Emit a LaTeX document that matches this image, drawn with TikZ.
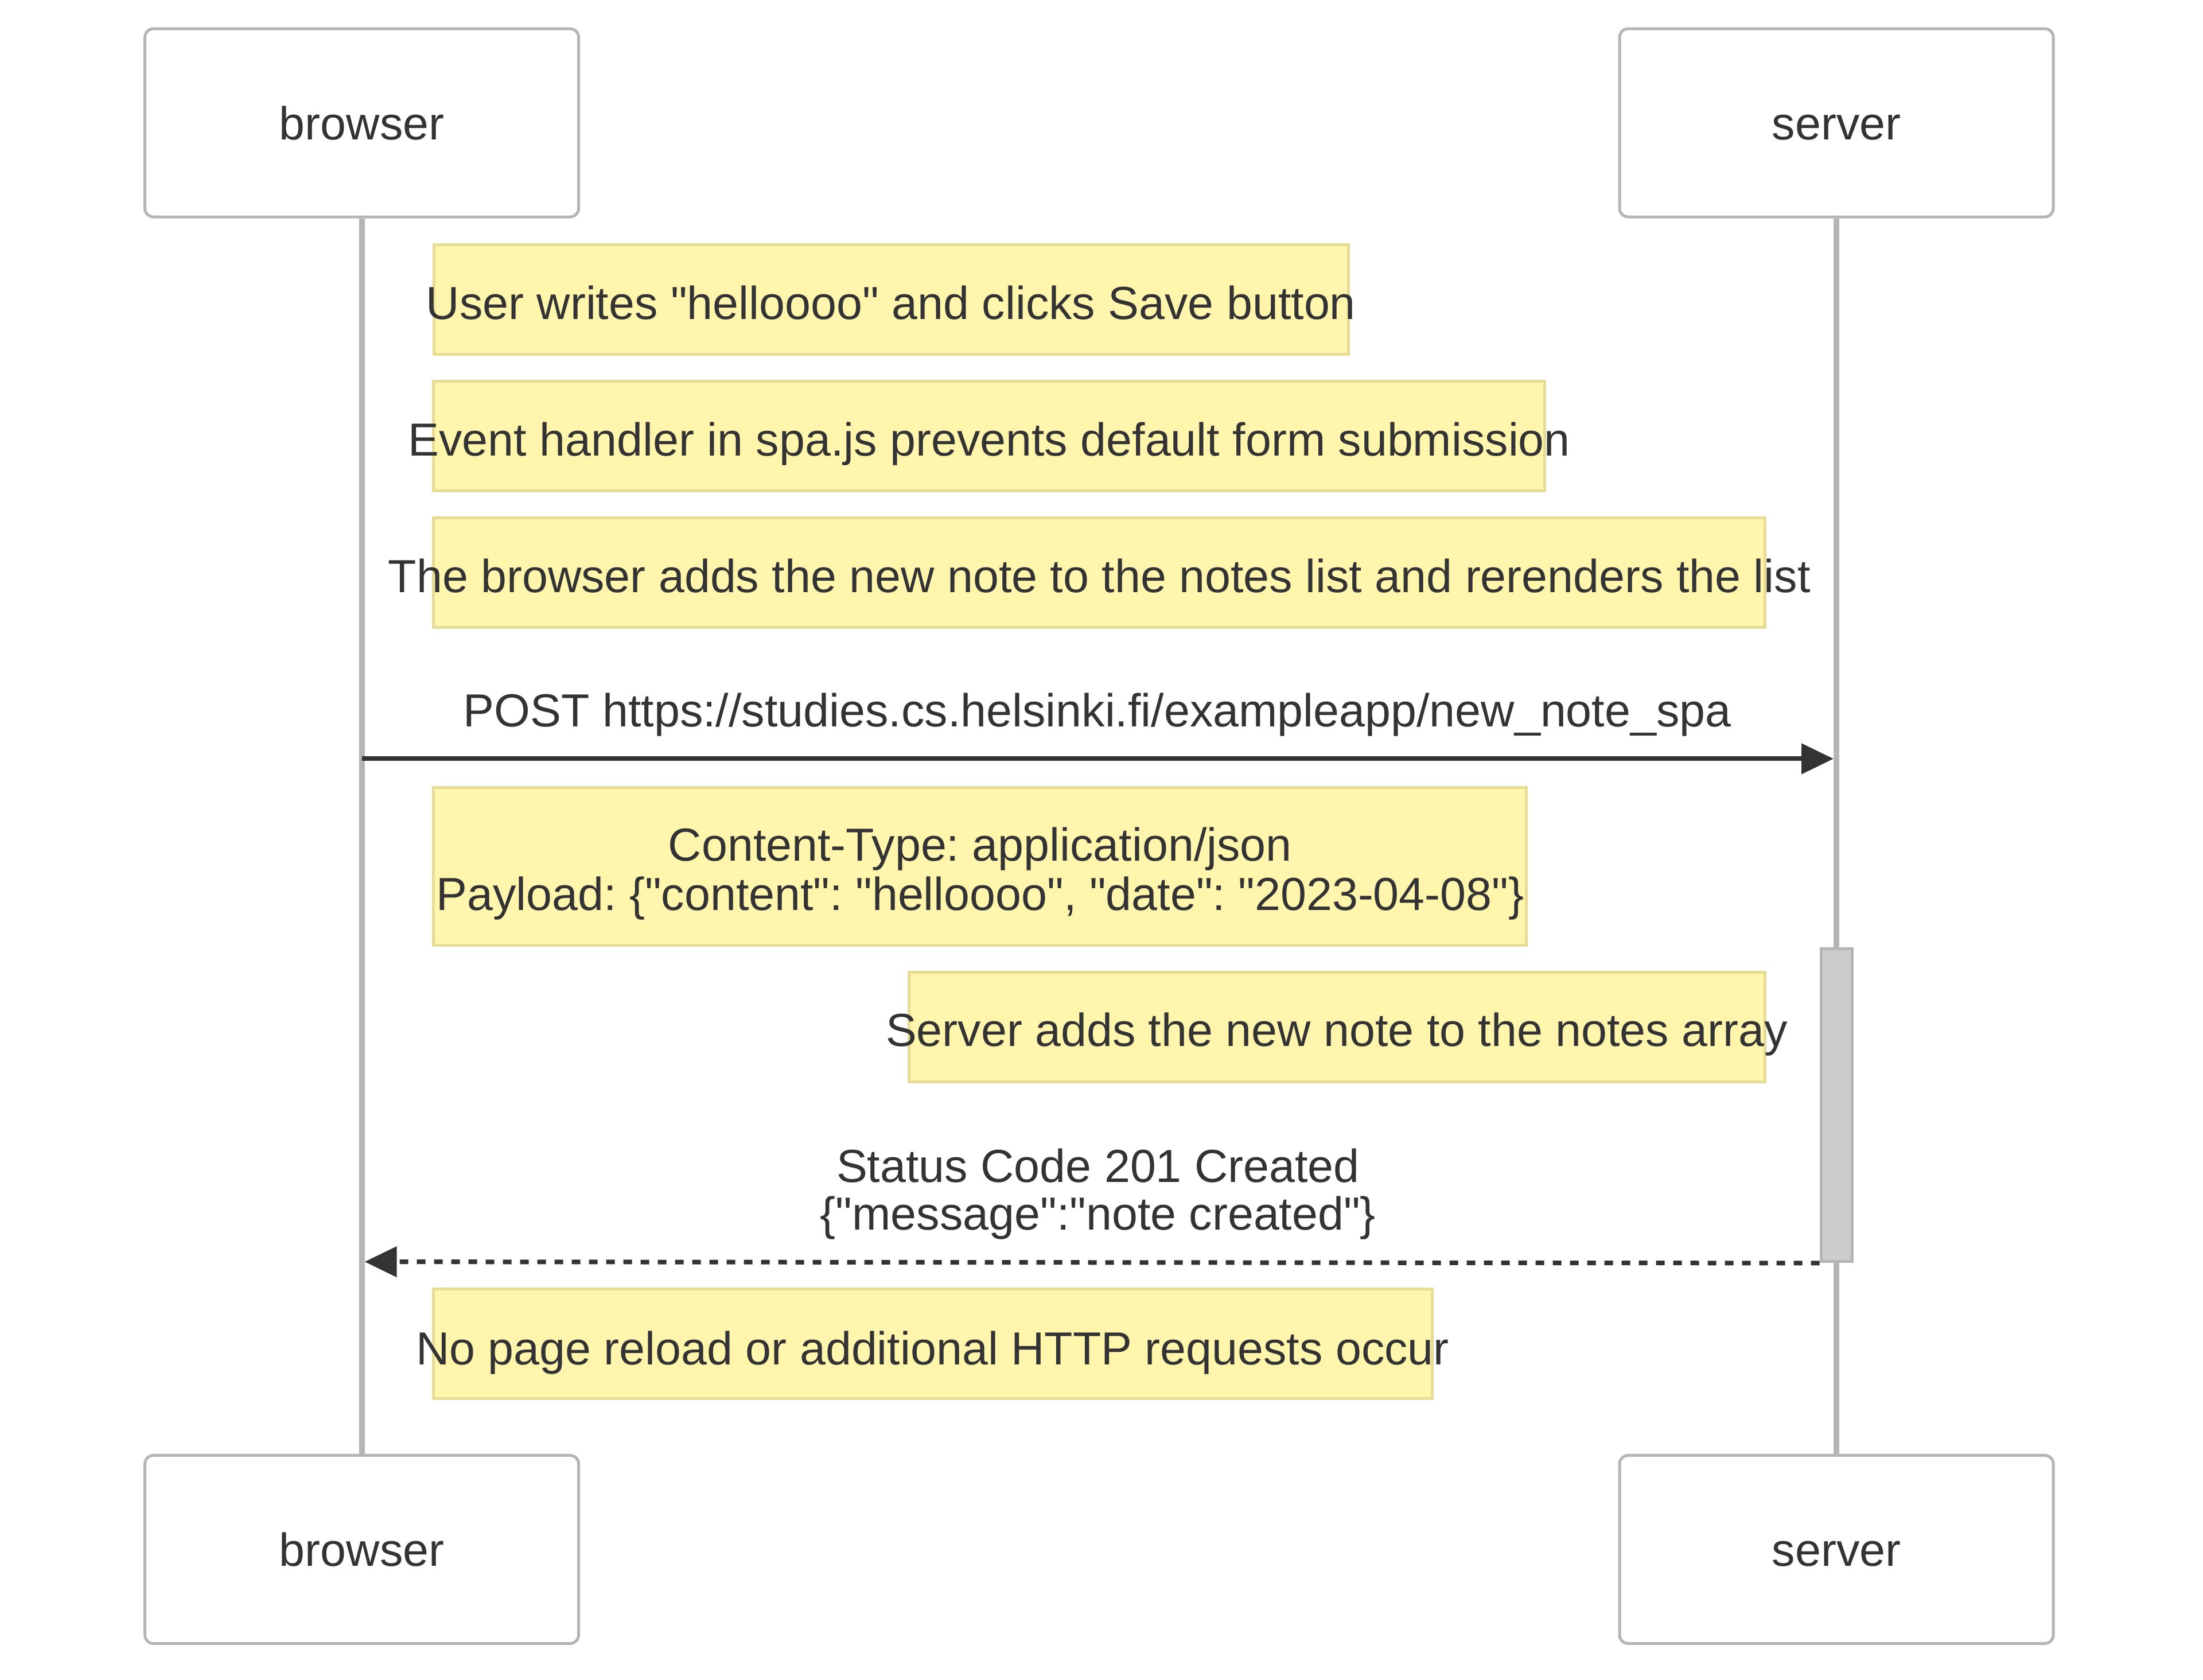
\documentclass[tikz,border=0pt]{standalone}
\usepackage{fontspec}
\setmainfont{Liberation Sans}[Ligatures=TeXOff]
\usetikzlibrary{arrows.meta}
\frenchspacing
\definecolor{ink}{HTML}{333333}
\definecolor{lifegray}{HTML}{B5B5B5}
\definecolor{notefill}{HTML}{FFF5AD}
\definecolor{noteline}{HTML}{E6DC96}
\definecolor{actfill}{HTML}{CCCCCC}
\tikzset{
  actor/.style={draw=lifegray, line width=1.25pt, fill=white, rounded corners=3.75pt,
    minimum width=189pt, minimum height=82pt, inner sep=0pt, text height=14.5pt, text depth=0pt},
  lifeline/.style={draw=lifegray, line width=2.5pt},
  notebox/.style={draw=noteline, fill=notefill, line width=1.25pt, inner sep=0pt, minimum height=47.75pt},
  activation/.style={draw=lifegray, fill=actfill, line width=1.25pt, inner sep=0pt},
  msgtext/.style={anchor=base, inner sep=0pt, align=center},
  msg/.style={draw=ink, line width=2pt, -{Triangle[length=14pt,width=13pt]}, shorten >=1.25pt},
  reply/.style={msg, dash pattern=on 3.75pt off 3.75pt}
}
\begin{document}
\begin{tikzpicture}[x=1pt, y=-1pt, every node/.append style={text=ink},
    font=\fontsize{20.2}{21.7}\selectfont]
  \fill[white] (0,0) rectangle (960,731.75);
  \useasboundingbox (0,0) rectangle (960,731.75);

  \node[actor] (browser) at (157.65,53.5) {browser};
  \node[actor] (server) at (800.25,53.5) {server};
  \node[actor] (browser-end) at (157.65,675.1) {browser};
  \node[actor] (server-end) at (800.25,675.1) {server};
  \draw[lifeline] (browser) -- (browser-end);
  \draw[lifeline] (server) -- (server-end);

  \node[notebox, minimum width=398.5pt] (n1) at (388.25,130.6) {};
  \node[msgtext] (t1) at ([yshift=-8.6pt]n1.center) {User writes "helloooo" and clicks Save button};
  \node[notebox, minimum width=484.25pt] (n2) at (431.1,190) {};
  \node[msgtext] (t2) at ([yshift=-8.6pt]n2.center) {Event handler in spa.js prevents default form submission};
  \node[notebox, minimum width=580.25pt] (n3) at (479.1,249.4) {};
  \node[msgtext] (t3) at ([yshift=-8.6pt]n3.center) {The browser adds the new note to the notes list and rerenders the list};

  \coordinate (post-from) at (157.65,330.6);
  \coordinate (post-to) at (800.25,330.6);
  \draw[msg] (post-from) -- (post-to);
  \node[msgtext] (post) at (478.2,316.7) {POST https://studies.cs.helsinki.fi/exampleapp/new\_note\_spa};

  \node[notebox, minimum width=476.25pt, minimum height=68.75pt] (n4) at (427.1,377.4) {};
  \node[msgtext] (t4) at (427.1,396.7) {Content-Type: application/json\\
    Payload: \{"content": "helloooo", "date": "2023-04-08"\}};

  \node[activation, minimum width=13.5pt, minimum height=136.25pt] (act) at (800.25,481.6) {};
  \node[notebox, minimum width=373pt] (n5) at (582.5,447.5) {};
  \node[msgtext] (t5) at ([yshift=-8.3pt]n5.center) {Server adds the new note to the notes array};

  \coordinate (created-to) at (157.65,549.75);
  \draw[reply] (act.south west) -- (created-to);
  \node[msgtext] (created) at (478.5,535.8) {Status Code 201 Created\\[-0.9pt]
    \{"message":"note created"\}};

  \node[notebox, minimum width=435.25pt] (n6) at (406.4,585.6) {};
  \node[msgtext] (t6) at ([yshift=-8.9pt]n6.center) {No page reload or additional HTTP requests occur};
\end{tikzpicture}
\end{document}
